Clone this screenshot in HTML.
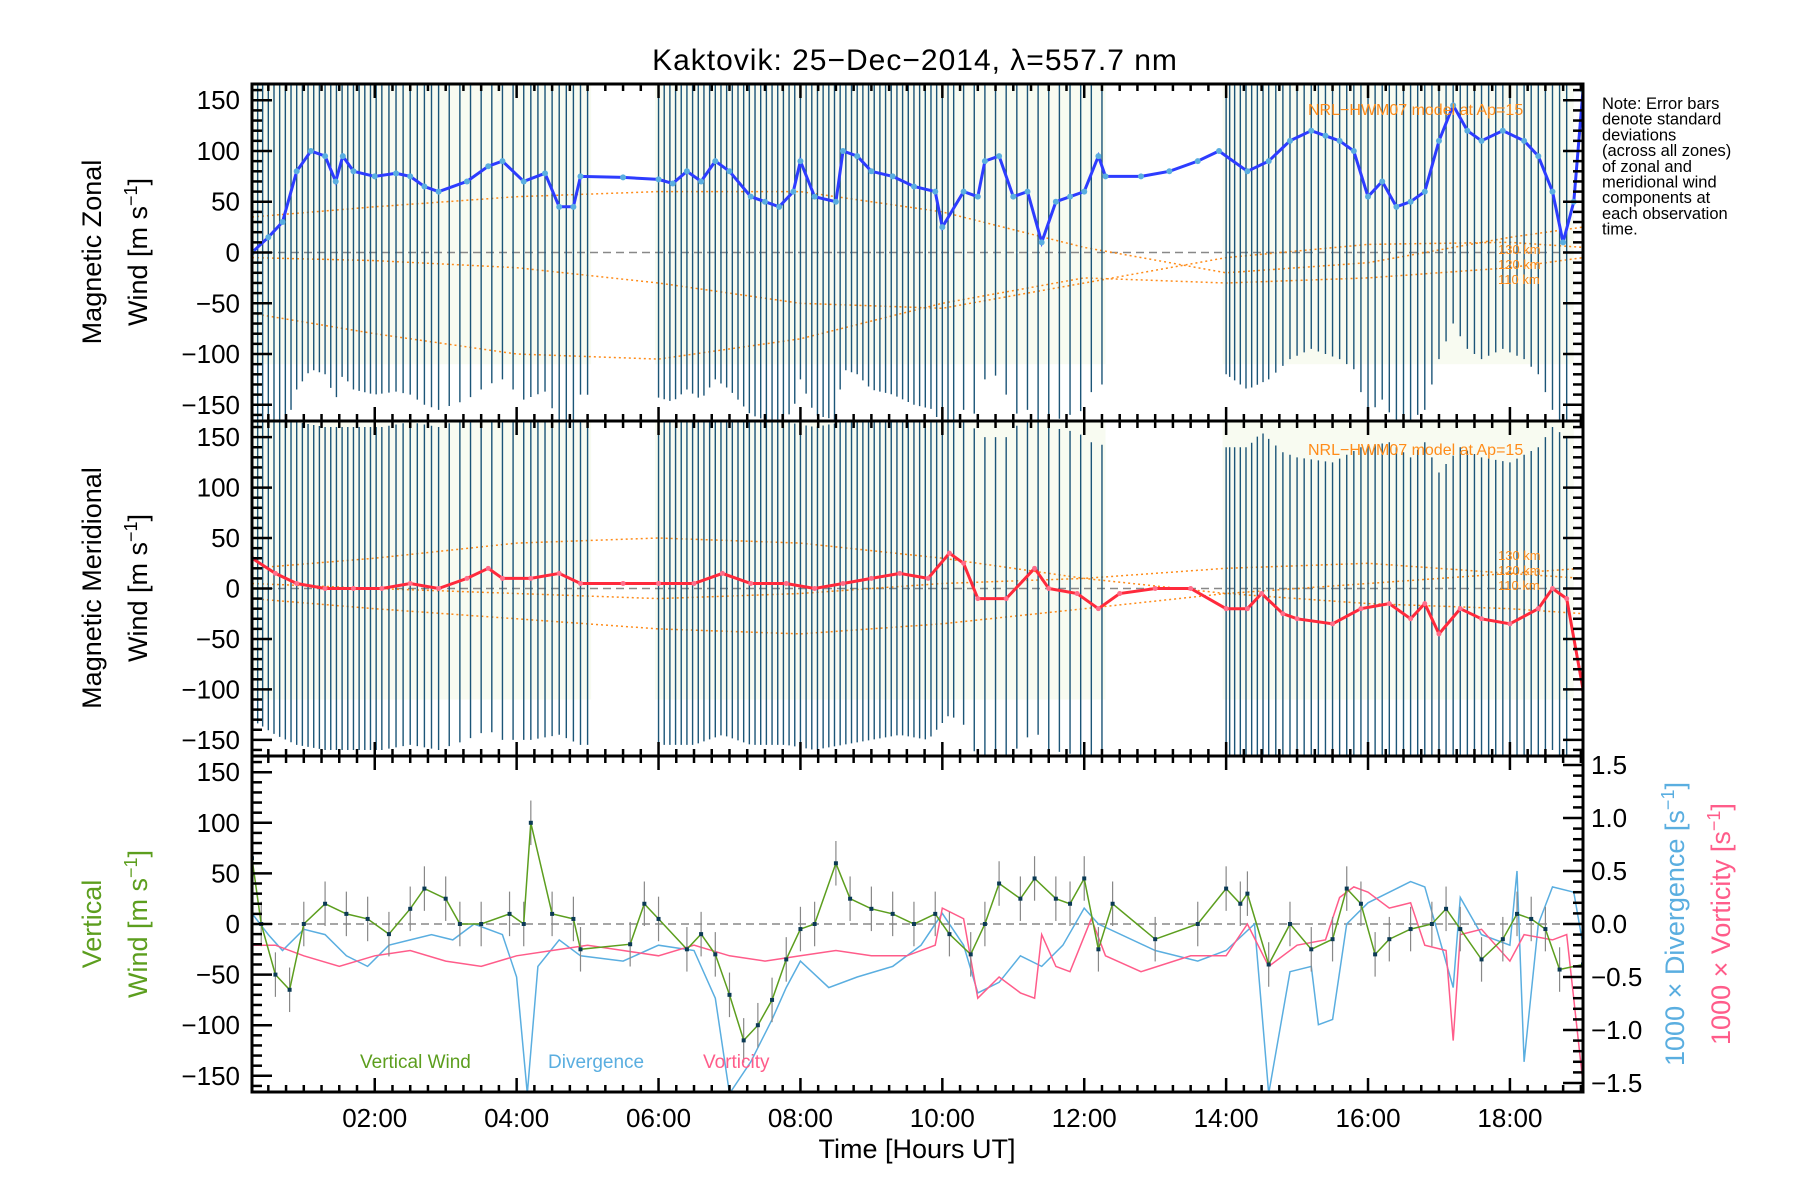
<!DOCTYPE html>
<html><head><meta charset="utf-8"><style>
html,body{margin:0;padding:0;background:#fff;}
svg{display:block;font-family:"Liberation Sans",sans-serif;}
</style></head><body>
<svg id="chart" width="1800" height="1200" viewBox="0 0 1800 1200" xmlns="http://www.w3.org/2000/svg">
<text x="915" y="70" font-size="30" text-anchor="middle" letter-spacing="1">Kaktovik: 25−Dec−2014, λ=557.7 nm</text>
<g font-size="16.5" fill="#000">
<text x="1602" y="109">Note: Error bars</text>
<text x="1602" y="124.7">denote standard</text>
<text x="1602" y="140.4">deviations</text>
<text x="1602" y="156.1">(across all zones)</text>
<text x="1602" y="171.8">of zonal and</text>
<text x="1602" y="187.5">meridional wind</text>
<text x="1602" y="203.2">components at</text>
<text x="1602" y="218.9">each observation</text>
<text x="1602" y="234.6">time.</text>
</g>
<g id="layer"></g>
</svg>
<script>
// ---- data ----
const obsTimes=[0.35,0.42,0.5,0.58,0.66,0.74,0.82,0.9,0.98,1.06,1.14,1.22,1.3,1.38,1.46,1.54,1.62,1.7,1.78,1.86,1.94,2.02,2.1,2.2,2.3,2.4,2.5,2.6,2.7,2.8,2.9,3.05,3.2,3.35,3.5,3.65,3.8,3.95,4.1,4.2,4.3,4.4,4.5,4.6,4.7,4.8,4.9,5.0,
6.0,6.08,6.16,6.24,6.32,6.4,6.48,6.56,6.64,6.72,6.8,6.88,6.96,7.04,7.12,7.2,7.28,7.36,7.44,7.52,7.6,7.68,7.76,7.84,7.92,8.0,8.08,8.16,8.24,8.32,8.4,8.48,8.56,8.64,8.72,8.8,8.88,8.96,9.04,9.12,9.2,9.28,9.36,9.44,9.52,9.6,9.68,9.76,9.84,9.92,10.0,10.08,10.16,10.3,10.45,10.6,10.75,10.9,11.05,11.2,11.35,11.5,11.65,11.8,11.95,12.1,12.25,
14.0,14.05,14.12,14.2,14.28,14.36,14.44,14.52,14.6,14.7,14.8,14.9,15.0,15.1,15.2,15.3,15.4,15.5,15.6,15.7,15.8,15.9,16.0,16.1,16.2,16.3,16.4,16.5,16.6,16.7,16.8,16.9,17.0,17.1,17.2,17.3,17.4,17.5,17.6,17.7,17.8,17.9,18.0,18.1,18.2,18.3,18.4,18.5,18.6,18.7,18.8];
const zonT=[0.27,0.5,0.7,0.9,1.1,1.3,1.45,1.55,1.7,2.0,2.3,2.5,2.7,2.9,3.3,3.6,3.8,4.1,4.4,4.6,4.8,4.9,5.5,6.0,6.2,6.4,6.6,6.8,7.0,7.3,7.5,7.7,7.9,8.0,8.2,8.5,8.6,8.8,9.0,9.3,9.6,9.9,10.0,10.3,10.5,10.6,10.8,11.0,11.2,11.4,11.6,11.8,12.0,12.2,12.3,12.8,13.2,13.6,13.9,14.3,14.6,14.9,15.2,15.4,15.6,15.8,16.0,16.2,16.4,16.6,16.8,17.0,17.2,17.4,17.6,17.9,18.2,18.4,18.6,18.75,18.9,19.03];
const zonV=[0,15,30,80,100,95,70,95,80,75,78,75,65,60,70,85,90,70,78,45,45,75,74,72,68,80,70,90,80,55,50,45,60,90,55,50,100,95,80,75,65,60,25,60,55,90,95,55,60,10,50,55,60,95,75,75,80,90,100,80,90,110,120,115,110,100,55,70,45,50,60,110,145,120,110,120,110,95,60,10,50,160];
const merT=[0.27,0.6,0.9,1.3,1.7,2.1,2.5,2.9,3.3,3.6,3.8,4.2,4.6,4.9,5.5,6.0,6.5,6.9,7.3,7.8,8.2,8.6,9.0,9.4,9.8,10.1,10.3,10.5,10.9,11.3,11.5,11.9,12.2,12.5,13.0,13.5,14.0,14.3,14.5,14.8,15.0,15.5,15.9,16.3,16.6,16.8,17.0,17.3,17.6,18.0,18.4,18.6,18.8,19.03];
const merV=[30,15,5,0,0,0,5,0,10,20,10,10,15,5,5,5,5,15,5,5,0,5,10,15,10,35,25,-10,-10,20,0,-5,-20,-5,0,0,-20,-20,-5,-25,-30,-35,-20,-15,-30,-15,-45,-20,-30,-35,-20,0,-10,-100];
const vertT=[0.27,0.4,0.6,0.8,1.0,1.3,1.6,1.9,2.2,2.5,2.7,3.0,3.2,3.5,3.9,4.1,4.2,4.5,4.8,4.9,5.6,5.8,6.0,6.4,6.6,6.8,7.0,7.2,7.4,7.6,7.8,8.0,8.2,8.5,8.7,9.0,9.3,9.6,9.9,10.1,10.4,10.6,10.8,11.1,11.3,11.6,11.8,12.0,12.2,12.4,13.0,13.6,14.0,14.2,14.3,14.6,14.9,15.2,15.5,15.7,15.9,16.1,16.3,16.6,16.9,17.1,17.3,17.6,17.9,18.1,18.3,18.5,18.7,19.03];
const vertV=[65,0,-50,-65,0,20,10,5,-10,15,35,25,0,0,10,0,100,10,5,-25,-20,20,5,-25,-10,-30,-70,-115,-100,-75,-35,-5,0,60,25,15,10,0,10,-10,-30,0,40,25,45,25,20,45,-25,20,-15,0,35,20,30,-40,0,-25,-15,35,20,-30,-15,-5,0,15,-5,-35,-15,10,5,-5,-45,-40];
const divT=[0.27,0.5,0.7,1.0,1.3,1.6,1.9,2.2,2.5,2.8,3.1,3.4,3.8,4.0,4.15,4.3,4.6,4.9,5.5,6.0,6.5,6.8,7.0,7.3,7.6,7.8,8.0,8.4,8.8,9.3,9.7,10.0,10.3,10.5,10.8,11.1,11.4,11.7,12.0,12.2,13.0,13.6,14.0,14.4,14.6,14.9,15.2,15.3,15.5,15.7,16.0,16.3,16.6,16.8,17.2,17.3,17.6,18.0,18.1,18.2,18.4,18.6,18.9,19.03];
const divV=[0.1,-0.1,-0.25,-0.05,-0.1,-0.3,-0.4,-0.2,-0.15,-0.1,-0.15,0,-0.1,-0.5,-1.6,-0.4,-0.15,-0.3,-0.35,-0.2,-0.25,-0.7,-1.6,-1.3,-0.9,-0.6,-0.35,-0.6,-0.5,-0.4,-0.2,0.1,-0.2,-0.65,-0.55,-0.3,-0.4,-0.2,0.15,0.0,-0.25,-0.35,-0.25,0,-1.6,-0.45,-0.4,-0.95,-0.9,0.0,0.2,0.3,0.4,0.35,-0.6,0.25,-0.1,-0.2,0.5,-1.3,0.0,0.35,0.3,-0.2];
const vorT=[0.27,0.6,1.0,1.5,2.0,2.5,3.0,3.5,4.0,4.5,5.0,5.5,6.0,6.5,7.0,7.5,8.0,8.5,9.0,9.5,9.9,10.0,10.3,10.5,10.8,11.1,11.3,11.4,11.6,11.8,12.1,12.3,12.8,13.5,14.0,14.3,14.6,15.0,15.4,15.6,15.8,16.0,16.3,16.6,16.8,17.1,17.2,17.3,17.6,18.0,18.2,18.6,18.8,19.03];
const vorV=[-0.2,-0.2,-0.3,-0.4,-0.3,-0.25,-0.35,-0.4,-0.3,-0.25,-0.2,-0.25,-0.3,-0.2,-0.3,-0.35,-0.3,-0.25,-0.3,-0.3,-0.2,0.15,0.05,-0.7,-0.5,-0.65,-0.7,-0.1,-0.4,-0.45,0.05,-0.3,-0.45,-0.3,-0.3,0.0,-0.4,-0.2,-0.15,0.25,0.35,0.3,0.15,0.2,-0.2,-0.25,-1.1,-0.1,-0.05,-0.35,-0.1,-0.15,-0.1,-1.5];
const modT=[0.27,2,4,6,8,10,12,14,16,18,19.03];
const modZ1=[-5,-8,-15,-30,-50,-55,-30,-5,8,10,5];
const modZ2=[35,45,55,60,60,40,5,-20,-10,15,25];
const modZ3=[-60,-80,-100,-105,-85,-50,-25,-30,-25,-15,-5];
const modM1=[20,30,45,50,45,30,10,-5,5,15,20];
const modM2=[-10,-20,-30,-40,-45,-35,-20,-5,-15,-20,-25];
const modM3=[5,0,-5,-10,-5,5,10,20,25,15,10];
const xTicks=[2,4,6,8,10,12,14,16,18];
const xTickLabels=["02:00","04:00","06:00","08:00","10:00","12:00","14:00","16:00","18:00"];
const yTicks=[150,100,50,0,-50,-100,-150];
const yTickLabels=["150","100","50","0","−50","−100","−150"];
const rTicks=[1.5,1.0,0.5,0.0,-0.5,-1.0,-1.5];
const rTickLabels=["1.5","1.0","0.5","0.0","−0.5","−1.0","−1.5"];
const sdZ=215, sdM=160, sdV=22;

// ---- layout ----
const X0=252,X1=1583,T0=0.27,T1=19.03;
const panels=[{top:84,bot:421},{top:421,bot:756},{top:756,bot:1092}];
const YR=166, RR=1.585;
const xs=t=>X0+(t-T0)/(T1-T0)*(X1-X0);
const ys=(p,v)=>{const P=panels[p];return (P.top+P.bot)/2-v/YR*(P.bot-P.top)/2;};
const yr=v=>{const P=panels[2];return (P.top+P.bot)/2-v/RR*(P.bot-P.top)/2;};
const NS="http://www.w3.org/2000/svg";
const layer=document.getElementById('layer');
function mk(tag,at,parent){const e=document.createElementNS(NS,tag);for(const k in at)e.setAttribute(k,at[k]);(parent||layer).appendChild(e);return e;}
const defs=mk('defs',{});
panels.forEach((P,i)=>{const c=mk('clipPath',{id:'c'+i},defs);mk('rect',{x:X0,y:P.top,width:X1-X0,height:P.bot-P.top},c);});
function interp(T,V,t){if(t<=T[0])return V[0];for(let i=1;i<T.length;i++){if(t<=T[i]){const f=(t-T[i-1])/(T[i]-T[i-1]);return V[i-1]+f*(V[i]-V[i-1]);}}return V[V.length-1];}
function pathOf(T,V,yf){return T.map((t,i)=>(i?'L':'M')+xs(t).toFixed(1)+' '+yf(V[i]).toFixed(1)).join(' ');}

// background tint for scatter regions
[[0.3,5.05],[5.95,12.3],[13.95,18.9]].forEach(seg=>{
 [0,1].forEach(p=>{
  const r=mk('rect',{x:xs(seg[0]),y:panels[p].top,width:xs(seg[1])-xs(seg[0]),height:ys(p,-110)-panels[p].top,fill:'#eef4dc',opacity:0.4,'clip-path':'url(#c'+p+')'});
  
  
 });
});

// zero lines
panels.forEach((P,p)=>{const l=mk('line',{x1:X0,x2:X1,y1:ys(p,0),y2:ys(p,0),stroke:'#888','stroke-width':1.5,'stroke-dasharray':'8 5'});
 
 });

// model curves
function model(p,V){const e=mk('path',{d:pathOf(modT,V,v=>ys(p,v)),fill:'none',stroke:'#ff8c1a','stroke-width':1.5,'stroke-dasharray':'2 3','clip-path':'url(#c'+p+')'});
 
 }
model(0,modZ1);model(0,modZ2);model(0,modZ3);model(1,modM1);model(1,modM2);model(1,modM3);

// error bars panels 1-2
obsTimes.forEach(t=>{
 const z=interp(zonT,zonV,t), m=interp(merT,merV,t);
 const a=mk('line',{x1:xs(t),x2:xs(t),y1:ys(0,z+sdZ),y2:ys(0,z-sdZ),stroke:'#1c5578','stroke-width':1.4,'clip-path':'url(#c0)'});
 
 
 const b=mk('line',{x1:xs(t),x2:xs(t),y1:ys(1,m+sdM),y2:ys(1,m-sdM),stroke:'#1c5578','stroke-width':1.4,'clip-path':'url(#c1)'});
 
 
});

// zonal line
let e=mk('path',{d:pathOf(zonT,zonV,v=>ys(0,v)),fill:'none',stroke:'#2d3cff','stroke-width':3,'clip-path':'url(#c0)'});


zonT.forEach((t,i)=>{const c=mk('circle',{cx:xs(t),cy:ys(0,zonV[i]),r:3,fill:'#5aaee0','clip-path':'url(#c0)'});
 
 });
e=mk('path',{d:pathOf(merT,merV,v=>ys(1,v)),fill:'none',stroke:'#ff2a3c','stroke-width':3,'clip-path':'url(#c1)'});


merT.forEach((t,i)=>{const c=mk('circle',{cx:xs(t),cy:ys(1,merV[i]),r:2.5,fill:'#ff6e8a','clip-path':'url(#c1)'});
 
 });

// panel 3
e=mk('path',{d:pathOf(divT,divV,yr),fill:'none',stroke:'#5aaee0','stroke-width':1.5,'clip-path':'url(#c2)'});


e=mk('path',{d:pathOf(vorT,vorV,yr),fill:'none',stroke:'#ff5c8a','stroke-width':1.5,'clip-path':'url(#c2)'});


vertT.forEach((t,i)=>{const l=mk('line',{x1:xs(t),x2:xs(t),y1:ys(2,vertV[i]+sdV),y2:ys(2,vertV[i]-sdV),stroke:'#888','stroke-width':1.2,'clip-path':'url(#c2)'});
 
 });
e=mk('path',{d:pathOf(vertT,vertV,v=>ys(2,v)),fill:'none',stroke:'#5c9e1e','stroke-width':1.5,'clip-path':'url(#c2)'});


vertT.forEach((t,i)=>{const r=mk('rect',{x:xs(t)-2,y:ys(2,vertV[i])-2,width:4,height:4,fill:'#0b3a55','clip-path':'url(#c2)'});
 
 });

// frames & ticks
panels.forEach((P,p)=>{
 const f=mk('rect',{x:X0,y:P.top,width:X1-X0,height:P.bot-P.top,fill:'none',stroke:'#000','stroke-width':3});
 
 
 for(let v=-160;v<=160;v+=10){const y=ys(p,v);const L=(v%50===0)?20:10;
  mk('line',{x1:X0,x2:X0+L,y1:y,y2:y,stroke:'#000','stroke-width':2.5});
  if(p<2)mk('line',{x1:X1,x2:X1-L,y1:y,y2:y,stroke:'#000','stroke-width':2.5});}
 for(let t=0.5;t<T1;t+=0.25){const x=xs(t);const L=(Math.abs(t%2)<1e-6)?14:7;
  mk('line',{x1:x,x2:x,y1:P.bot,y2:P.bot-L,stroke:'#000','stroke-width':2.5});
  mk('line',{x1:x,x2:x,y1:P.top,y2:P.top+L,stroke:'#000','stroke-width':2.5});}
 yTicks.forEach((v,i)=>{const t=mk('text',{x:X0-12,y:ys(p,v)+9,'font-size':26,'text-anchor':'end'});t.textContent=yTickLabels[i];
  
  });
});
for(let v=-1.5;v<=1.51;v+=0.1){const y=yr(v);const L=(Math.abs(Math.round(v*10))%5===0)?20:10;
 mk('line',{x1:X1,x2:X1-L,y1:y,y2:y,stroke:'#000','stroke-width':2.5});}
rTicks.forEach((v,i)=>{const t=mk('text',{x:X1+8,y:yr(v)+9,'font-size':26});t.textContent=rTickLabels[i];
 
 });
xTicks.forEach((v,i)=>{const t=mk('text',{x:xs(v),y:1127,'font-size':26,'text-anchor':'middle'});t.textContent=xTickLabels[i];
 
 });

// labels
function txt(s,at,name){const t=mk('text',at);t.textContent=s;return t;}
txt('Time [Hours UT]',{x:917,y:1158,'font-size':27,'text-anchor':'middle'},'x-axis-title');
function vlab(lines,cx,cy,color,name){lines.forEach((s,i)=>{const x=cx[i];const t=txt('',{x:x,y:cy,'font-size':27,'text-anchor':'middle',fill:color,transform:'rotate(-90 '+x+' '+cy+')'},name);t.innerHTML=s;});}
vlab(['Magnetic Zonal','Wind [m s<tspan dy="-10" font-size="18">−1</tspan><tspan dy="10">]</tspan>'],[101,147],252,'#000','zonal-y-title');
vlab(['Magnetic Meridional','Wind [m s<tspan dy="-10" font-size="18">−1</tspan><tspan dy="10">]</tspan>'],[101,147],588,'#000','meridional-y-title');
vlab(['Vertical','Wind [m s<tspan dy="-10" font-size="18">−1</tspan><tspan dy="10">]</tspan>'],[101,147],924,'#5c9e1e','vertical-y-title');
vlab(['1000 × Divergence [s<tspan dy="-10" font-size="18">−1</tspan><tspan dy="10">]</tspan>'],[1684],924,'#5aaee0','divergence-y-title');
vlab(['1000 × Vorticity [s<tspan dy="-10" font-size="18">−1</tspan><tspan dy="10">]</tspan>'],[1730],924,'#ff5c8a','vorticity-y-title');
txt('Vertical Wind',{x:360,y:1068,'font-size':19,fill:'#5c9e1e'},'legend-vertical-wind');
txt('Divergence',{x:548,y:1068,'font-size':19,fill:'#5aaee0'},'legend-divergence');
txt('Vorticity',{x:703,y:1068,'font-size':19,fill:'#ff5c8a'},'legend-vorticity');
txt('NRL−HWM07 model at Ap=15',{x:1308,y:115,'font-size':16,fill:'#ff8c1a'},'model-label-zonal');
txt('NRL−HWM07 model at Ap=15',{x:1308,y:455,'font-size':16,fill:'#ff8c1a'},'model-label-meridional');
['130 km','120 km','110 km'].forEach((s,i)=>{txt(s,{x:1498,y:254+i*15,'font-size':13,fill:'#ff8c1a'},'model-altitude-label');
 txt(s,{x:1498,y:560+i*15,'font-size':13,fill:'#ff8c1a'},'model-altitude-label');});
</script>
</body></html>
